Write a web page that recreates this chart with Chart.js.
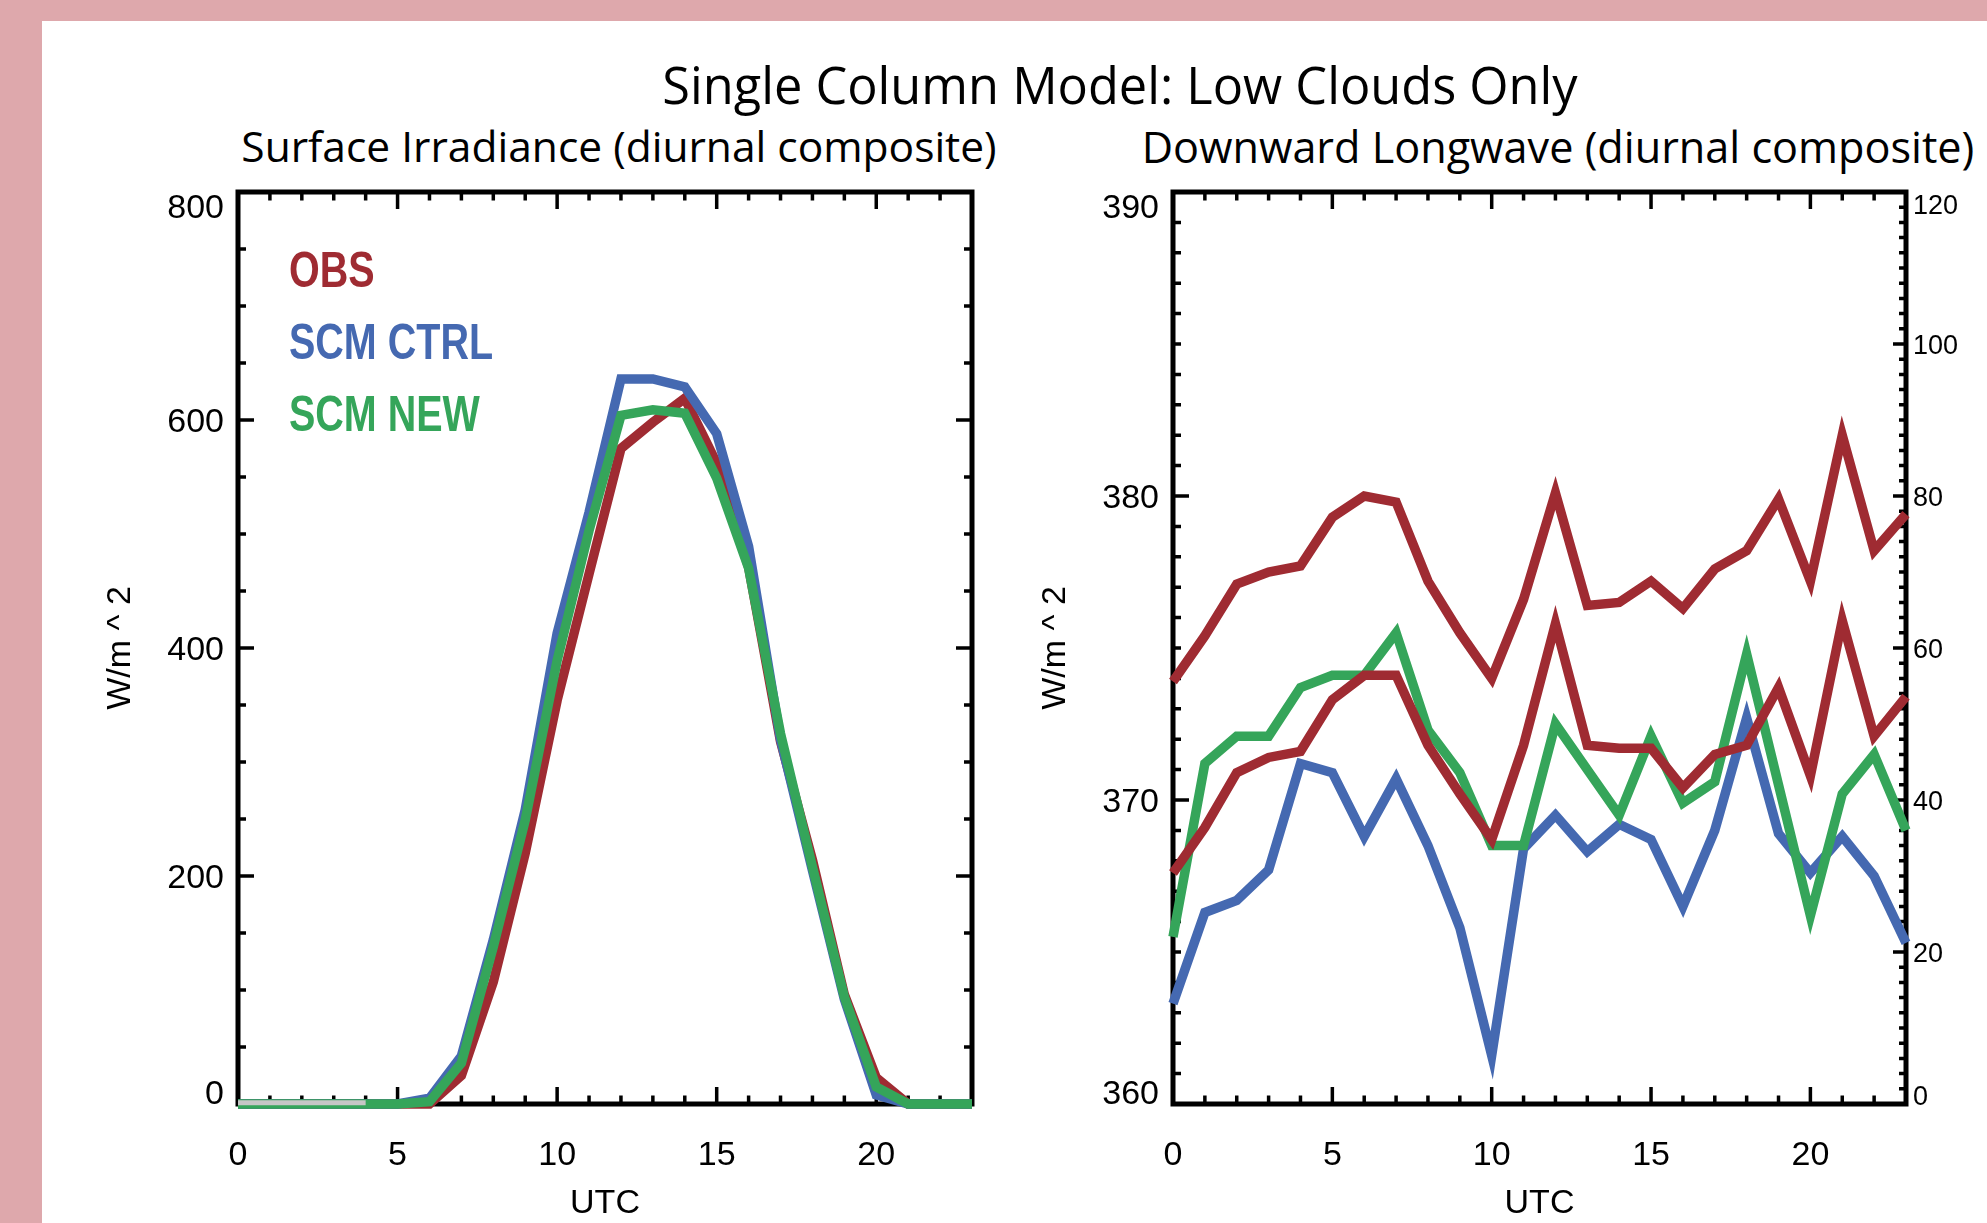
<!DOCTYPE html>
<html>
<head>
<meta charset="utf-8">
<title>Single Column Model: Low Clouds Only</title>
<script src="https://cdn.jsdelivr.net/npm/chart.js@4.4.1/dist/chart.umd.min.js"></script>
<style>
  html, body { margin: 0; padding: 0; }
  body { width: 1987px; height: 1223px; background: #dea8ac; position: relative; overflow: hidden; }
  #sheet { position: absolute; left: 42px; top: 21px; right: 0; bottom: 0; background: #fff; }
  .ttl { position: absolute; transform: translateX(-50%); white-space: nowrap; line-height: 1;
         font-family: "Open Sans", "Noto Sans", sans-serif; color: #000; }
  #mainTitle { left: 1120px; top: 60px; font-size: 50.5px; }
  #t1 { left: 619px; top: 125px; font-size: 42.5px; }
  #t2 { left: 1558px; top: 125px; font-size: 43.2px; }
  canvas { position: absolute; top: 0; }
  #irr { left: 0; }
  #lw { left: 1000px; }
</style>
</head>
<body>
<div id="sheet"></div>
<div class="ttl" id="mainTitle">Single Column Model: Low Clouds Only</div>
<div class="ttl" id="t1">Surface Irradiance (diurnal composite)</div>
<div class="ttl" id="t2">Downward Longwave (diurnal composite)</div>
<canvas id="irr" width="1000" height="1223"></canvas>
<canvas id="lw" width="987" height="1223"></canvas>

<script>
// --- données ---
const hours = [0, 1, 2, 3, 4, 5, 6, 7, 8, 9, 10, 11, 12, 13, 14, 15, 16, 17, 18, 19, 20, 21, 22, 23];

// Surface irradiance (W/m^2)
const irrObs  = [0, 0, 0, 0, 0, 0, 0, 25, 107, 220, 354, 465, 575, 598, 619, 562, 471, 318, 214, 96, 23, 0, 0, 0];
const irrCtrl = [0, 0, 0, 0, 0, 0, 5, 42, 144, 258, 413, 519, 636, 636, 629, 588, 489, 320, 205, 92, 8, 0, 0, 0];
const irrNew  = [0, 0, 0, 0, 0, 0, 2, 36, 138, 249, 389, 503, 604, 609, 606, 549, 470, 325, 208, 94, 15, 0, 0, 0];
const greyHours = [0, 1, 2, 3, 4];
const greyVals  = [1, 1, 1, 1, 1];

// Downward longwave (W/m^2)
const lwObsUpper = [373.9, 375.4, 377.1, 377.5, 377.7, 379.3, 380.0, 379.8, 377.2, 375.5, 374.0, 376.6,
                    380.1, 376.4, 376.5, 377.2, 376.3, 377.6, 378.2, 379.9, 377.2, 382.0, 378.2, 379.4];
const lwObsLower = [367.6, 369.1, 370.9, 371.4, 371.6, 373.3, 374.1, 374.1, 371.8, 370.2, 368.7, 371.8,
                    375.8, 371.8, 371.7, 371.7, 370.4, 371.5, 371.8, 373.7, 370.8, 375.9, 372.1, 373.4];
const lwNew  = [365.5, 371.2, 372.1, 372.1, 373.7, 374.1, 374.1, 375.5, 372.3, 370.9, 368.5, 368.5,
                372.5, 371.0, 369.5, 372.1, 369.9, 370.6, 374.8, 370.5, 366.2, 370.2, 371.5, 369.0];
const lwCtrl = [363.3, 366.3, 366.7, 367.7, 371.2, 370.9, 368.8, 370.7, 368.5, 365.8, 361.6, 368.4,
                369.5, 368.3, 369.2, 368.7, 366.5, 369.0, 372.7, 368.9, 367.6, 368.8, 367.5, 365.3];

// graduations
const hourLabels = [0, 5, 10, 15, 20];
const irrLabels = [0, 200, 400, 600, 800];
const lwLabels = [360, 370, 380, 390];
const lwRightLabels = [0, 20, 40, 60, 80, 100, 120];

const RED = '#9f2b32';
const BLUE = '#4569b1';
const GREEN = '#35a55a';
const GREY = '#c6c6c6';

function toPoints(xs, ys) {
    return xs.map((h, i) => ({ x: h, y: ys[i] }));
}

function lineSet(label, xs, ys, color, order, width) {
    return {
        label: label,
        data: toPoints(xs, ys),
        borderColor: color,
        backgroundColor: color,
        borderWidth: width || 9.5,
        pointRadius: 0,
        tension: 0,
        fill: false,
        clip: false,
        borderJoinStyle: 'miter',
        order: order
    };
}

// cadre style IDL : boite, graduations vers l'intérieur, étiquettes
const axisFrame = {
    id: 'axisFrame',
    beforeDatasetsDraw(chart, args, o) {
        const ctx = chart.ctx;
        const a = chart.chartArea;
        const xs = chart.scales.x, ys = chart.scales.y;
        const y2 = o.rightScale ? chart.scales[o.rightScale] : null;

        ctx.save();
        ctx.strokeStyle = '#000';
        ctx.fillStyle = '#000';
        ctx.lineWidth = 3.5;
        ctx.lineCap = 'butt';
        ctx.beginPath();

        // graduations horizontales (haut et bas)
        for (let v = xs.min; v <= xs.max; v++) {
            const px = xs.getPixelForValue(v);
            const len = v % o.xMajor === 0 ? 17 : 8.5;
            ctx.moveTo(px, a.bottom); ctx.lineTo(px, a.bottom - len);
            ctx.moveTo(px, a.top); ctx.lineTo(px, a.top + len);
        }

        // graduations verticales
        const n = Math.round((ys.max - ys.min) / o.yMinor);
        const every = Math.round(o.yMajor / o.yMinor);
        for (let i = 0; i <= n; i++) {
            const py = ys.getPixelForValue(ys.min + i * o.yMinor);
            const len = i % every === 0 ? 16 : 8;
            ctx.moveTo(a.left, py); ctx.lineTo(a.left + len, py);
            if (!y2) { ctx.moveTo(a.right, py); ctx.lineTo(a.right - len, py); }
        }
        if (y2) {
            const n2 = Math.round((y2.max - y2.min) / o.y2Minor);
            const every2 = Math.round(o.y2Major / o.y2Minor);
            for (let i = 0; i <= n2; i++) {
                const py = y2.getPixelForValue(y2.min + i * o.y2Minor);
                const len = i % every2 === 0 ? 13 : 7;
                ctx.moveTo(a.right, py); ctx.lineTo(a.right - len, py);
            }
        }
        ctx.stroke();

        ctx.lineWidth = 5;
        ctx.strokeRect(a.left, a.top, a.right - a.left, a.bottom - a.top);

        // étiquettes
        ctx.font = '34px "Liberation Sans", Arial, sans-serif';
        ctx.textBaseline = 'alphabetic';
        ctx.textAlign = 'center';
        o.xLabels.forEach(v => ctx.fillText(String(v), xs.getPixelForValue(v), a.bottom + 61));

        ctx.textAlign = 'right';
        o.yLabels.forEach(v => {
            let py = ys.getPixelForValue(v);
            py = Math.min(Math.max(py, a.top + 14), a.bottom - 12);
            ctx.fillText(String(v), a.left - 14, py + 12);
        });

        if (y2) {
            ctx.font = '27px "Liberation Sans", Arial, sans-serif';
            ctx.textAlign = 'left';
            o.y2Labels.forEach(v => {
                let py = y2.getPixelForValue(v);
                py = Math.min(Math.max(py, a.top + 12), a.bottom - 9);
                ctx.fillText(String(v), a.right + 7, py + 9.5);
            });
        }

        // titres des axes
        ctx.font = '34px "Liberation Sans", Arial, sans-serif';
        ctx.textAlign = 'center';
        ctx.fillText(o.xTitle, (a.left + a.right) / 2, a.bottom + 109);
        ctx.save();
        ctx.translate(a.left - 108, (a.top + a.bottom) / 2);
        ctx.rotate(-Math.PI / 2);
        ctx.fillText(o.yTitle, 0, 0);
        ctx.restore();

        ctx.restore();
    }
};

// noms des séries écrits en couleur dans le graphique
const seriesNames = {
    id: 'seriesNames',
    afterDatasetsDraw(chart, args, o) {
        if (!o.show) return;
        const ctx = chart.ctx;
        ctx.save();
        ctx.font = 'bold 50px "Liberation Sans", Arial, sans-serif';
        ctx.textAlign = 'left';
        ctx.textBaseline = 'alphabetic';
        chart.data.datasets.filter(d => d.label).forEach((d, i) => {
            ctx.save();
            ctx.translate(o.x, o.y + i * o.step);
            ctx.scale(0.79, 1);
            ctx.fillStyle = d.borderColor;
            ctx.fillText(d.label, 0, 0);
            ctx.restore();
        });
        ctx.restore();
    }
};

function baseOptions(pad, yMin, yMax) {
    return {
        responsive: false,
        devicePixelRatio: 1,
        animation: false,
        events: [],
        layout: { padding: pad },
        scales: {
            x: { type: 'linear', min: 0, max: 23, display: false },
            y: { type: 'linear', min: yMin, max: yMax, display: false }
        },
        plugins: {
            legend: { display: false },
            tooltip: { enabled: false },
            title: { display: false }
        }
    };
}

// --- panneau gauche : rayonnement de surface ---
const irrOptions = baseOptions({ left: 238, right: 28, top: 192, bottom: 119 }, 0, 800);
irrOptions.plugins.axisFrame = {
    xMajor: 5, yMinor: 50, yMajor: 200,
    xLabels: hourLabels, yLabels: irrLabels,
    xTitle: 'UTC', yTitle: 'W/m ^ 2'
};
irrOptions.plugins.seriesNames = { show: true, x: 289, y: 287, step: 72 };

new Chart(document.getElementById('irr'), {
    type: 'line',
    data: {
        datasets: [
            lineSet('OBS', hours, irrObs, RED, 3),
            lineSet('SCM CTRL', hours, irrCtrl, BLUE, 2),
            lineSet('SCM NEW', hours, irrNew, GREEN, 1),
            lineSet('', greyHours, greyVals, GREY, 0, 5)
        ]
    },
    options: irrOptions,
    plugins: [axisFrame, seriesNames]
});

// --- panneau droit : grandes longueurs d'onde descendantes ---
const lwOptions = baseOptions({ left: 173, right: 81, top: 192, bottom: 119 }, 360, 390);
lwOptions.scales.y2 = { type: 'linear', position: 'right', min: 0, max: 120, display: false };
lwOptions.plugins.axisFrame = {
    xMajor: 5, yMinor: 1, yMajor: 10,
    rightScale: 'y2', y2Minor: 2, y2Major: 20,
    xLabels: hourLabels, yLabels: lwLabels, y2Labels: lwRightLabels,
    xTitle: 'UTC', yTitle: 'W/m ^ 2'
};
lwOptions.plugins.seriesNames = { show: false };

new Chart(document.getElementById('lw'), {
    type: 'line',
    data: {
        datasets: [
            lineSet('OBS', hours, lwObsUpper, RED, 0),
            lineSet('OBS', hours, lwObsLower, RED, 1),
            lineSet('SCM NEW', hours, lwNew, GREEN, 2),
            lineSet('SCM CTRL', hours, lwCtrl, BLUE, 3)
        ]
    },
    options: lwOptions,
    plugins: [axisFrame, seriesNames]
});
</script>
</body>
</html>
